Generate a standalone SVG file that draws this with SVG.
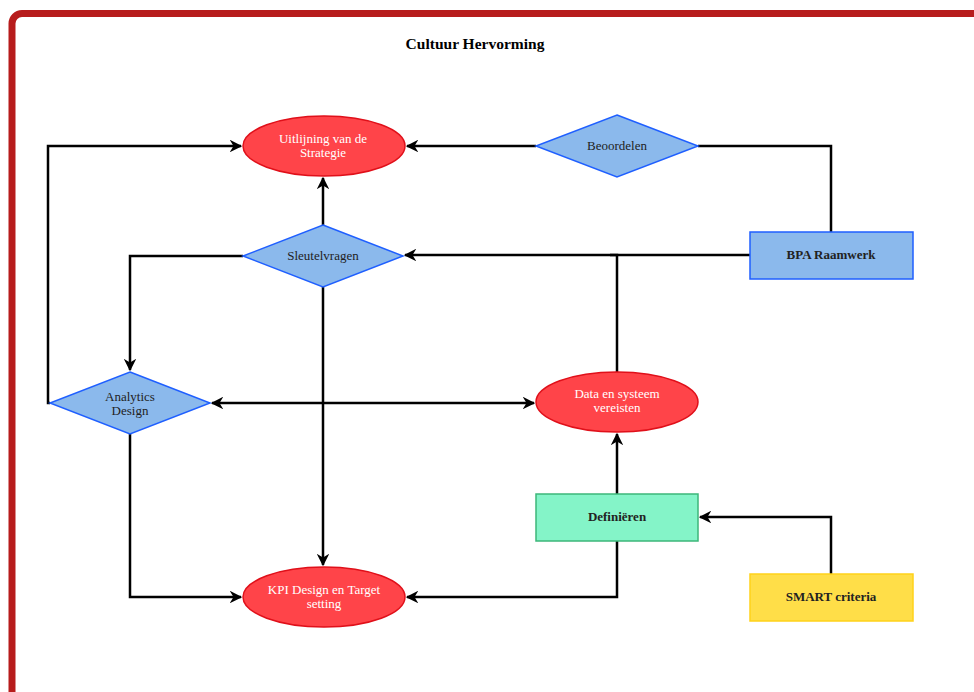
<svg xmlns="http://www.w3.org/2000/svg" width="974" height="692" viewBox="0 0 974 692">
<defs>
<marker id="arr" viewBox="0 0 10 10" refX="9" refY="5" markerWidth="5" markerHeight="5" orient="auto-start-reverse" markerUnits="strokeWidth">
<path d="M0,0 L10,5 L0,10 L3,5 z" fill="#000"/>
</marker>
<style>
.frame{fill:#fff;stroke:#B71C1C;stroke-width:7}
.title{font-family:"Liberation Serif",serif;font-size:15.5px;font-weight:bold;fill:#000;text-anchor:middle}
.red{fill:#FF4449;stroke:#E0101A;stroke-width:1.5}
.blue{fill:#8BB9EC;stroke:#1F5FFF;stroke-width:1.5}
.green{fill:#84F4C8;stroke:#3CB77A;stroke-width:1.5}
.yellow{fill:#FFDE48;stroke:#FFD21A;stroke-width:1.5}
.tw{font-family:"Liberation Serif",serif;font-size:13px;fill:#fff;text-anchor:middle}
.td{font-family:"Liberation Serif",serif;font-size:13px;fill:#222;text-anchor:middle}
.tb{font-family:"Liberation Serif",serif;font-size:13px;font-weight:bold;fill:#222;text-anchor:middle}
.c{fill:none;stroke:#000;stroke-width:2.5}
</style>
</defs>
<rect class="frame" x="12" y="13.5" width="1000" height="720" rx="10"/>
<text class="title" x="475" y="49">Cultuur Hervorming</text>
<g id="connectors">
<polyline class="c" points="50,403 48,403 48,146 241,146" marker-end="url(#arr)"/>
<line class="c" x1="536" y1="146" x2="407" y2="146" marker-end="url(#arr)"/>
<polyline class="c" points="831,232 831,146 698,146"/>
<line class="c" x1="323" y1="225" x2="323" y2="178" marker-end="url(#arr)"/>
<line class="c" x1="750" y1="255" x2="405" y2="255" marker-end="url(#arr)"/>
<polyline class="c" points="617,373 617,255 610,255"/>
<polyline class="c" points="243,256 130,256 130,370" marker-end="url(#arr)"/>
<line class="c" x1="323" y1="287" x2="323" y2="565" marker-end="url(#arr)"/>
<line class="c" x1="212" y1="403" x2="534" y2="403" marker-start="url(#arr)" marker-end="url(#arr)"/>
<polyline class="c" points="130,433 130,597 241,597" marker-end="url(#arr)"/>
<polyline class="c" points="617,541 617,597 407,597" marker-end="url(#arr)"/>
<line class="c" x1="617" y1="494" x2="617" y2="434" marker-end="url(#arr)"/>
<polyline class="c" points="831,574 831,517 700,517" marker-end="url(#arr)"/>
</g>
<g id="uitlijning">
<ellipse class="red" cx="324" cy="146" rx="81" ry="30"/>
<text class="tw" x="323" y="143">Uitlijning van de</text>
<text class="tw" x="323" y="157">Strategie</text>
</g>
<g id="beoordelen">
<polygon class="blue" points="617,115 698,146 617,177 536,146"/>
<text class="td" x="617" y="150">Beoordelen</text>
</g>
<g id="sleutelvragen">
<polygon class="blue" points="323,225 403,256 323,287 243,256"/>
<text class="td" x="323" y="260">Sleutelvragen</text>
</g>
<g id="bpa">
<rect class="blue" x="750" y="232" width="163" height="47"/>
<text class="tb" x="831" y="259">BPA Raamwerk</text>
</g>
<g id="analytics">
<polygon class="blue" points="130,372 210,403 130,434 50,403"/>
<text class="td" x="130" y="401">Analytics</text>
<text class="td" x="130" y="415">Design</text>
</g>
<g id="data">
<ellipse class="red" cx="617" cy="402" rx="81" ry="30"/>
<text class="tw" x="617" y="398">Data en systeem</text>
<text class="tw" x="617" y="412">vereisten</text>
</g>
<g id="definieren">
<rect class="green" x="536" y="494" width="162" height="47"/>
<text class="tb" x="617" y="521">Definiëren</text>
</g>
<g id="kpi">
<ellipse class="red" cx="324" cy="597" rx="81" ry="30"/>
<text class="tw" x="324" y="594">KPI Design en Target</text>
<text class="tw" x="324" y="608">setting</text>
</g>
<g id="smart">
<rect class="yellow" x="750" y="574" width="163" height="47"/>
<text class="tb" x="831" y="601">SMART criteria</text>
</g>
</svg>
